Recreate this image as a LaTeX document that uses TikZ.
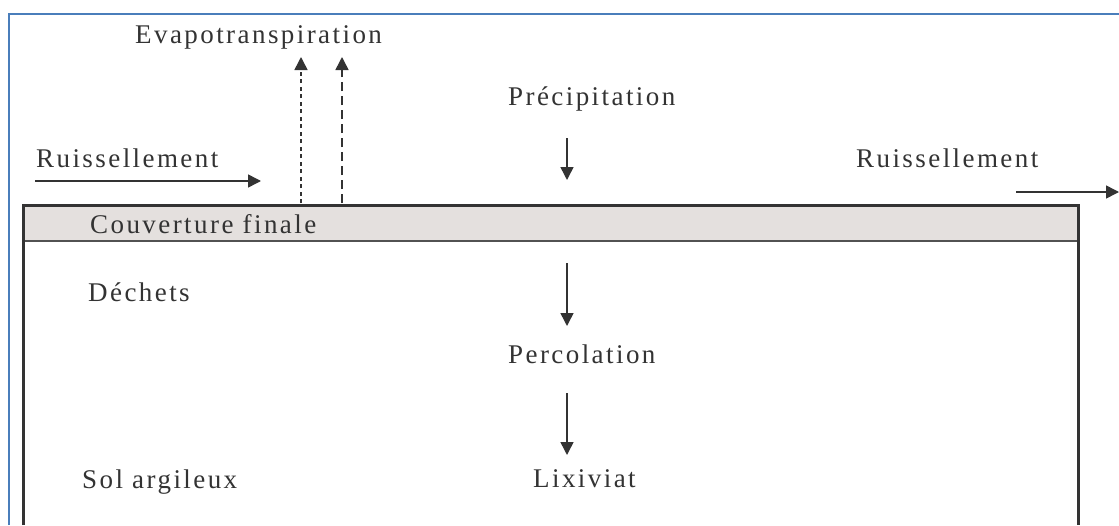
\documentclass[tikz,border=0pt]{standalone}
\usepackage{fontspec}
\setmainfont{Liberation Serif}[LetterSpace=9]
\usetikzlibrary{arrows.meta}
\definecolor{frameblue}{HTML}{4A7EBB}
\definecolor{ink}{HTML}{333333}
\definecolor{coverfill}{HTML}{E4E0DE}
\tikzset{
  lbl/.style={anchor=base west, inner sep=0pt, text=ink, font=\fontsize{27}{31}\selectfont},
  flow/.style={draw=ink, line width=1.5pt, -{Triangle[length=13pt,width=13pt]}},
  evapA/.style={flow, dash pattern=on 4pt off 3.5pt},
  evapB/.style={flow, dash pattern=on 9pt off 5pt},
}
\begin{document}
\begin{tikzpicture}[x=1pt,y=-1pt]
\useasboundingbox (0,0) rectangle (1119,525);
\fill[white] (0,0) rectangle (1119,525);
% blue frame
\draw[frameblue, line width=2pt] (9,525) -- (9,14) -- (1119,14);
% landfill box
\fill[coverfill] (23,205) rectangle (1078,241);
\draw[ink!85, line width=2pt] (23,241) -- (1078,241);
\draw[ink, line width=3pt] (23,525) -- (23,205) -- (1078,205) -- (1078,525);
% labels
\node[lbl] (evap) at (135,43) {Evapotranspiration};
\node[lbl] (ruisL) at (36,167) {Ruissellement};
\node[lbl] (ruisR) at (856,167) {Ruissellement};
\node[lbl] (prec) at (508,105) {Précipitation};
\node[lbl] (couv) at (90,233) {Couverture finale};
\node[lbl] (dech) at (88,301) {Déchets};
\node[lbl] (perc) at (508,363) {Percolation};
\node[lbl] (lix) at (533,487) {Lixiviat};
\node[lbl] (sol) at (82,488) {Sol argileux};
% connector end points
\coordinate (rlA) at (35,181);
\coordinate (rlB) at (261,181);
\coordinate (rrA) at (1016,192);
\coordinate (rrB) at (1119,192);
\coordinate (e1A) at (301,203);
\coordinate (e1B) at (301,57);
\coordinate (e2A) at (342,203);
\coordinate (e2B) at (342,57);
\coordinate (pA) at (567,138);
\coordinate (pB) at (567,180);
\coordinate (q1A) at (567,263);
\coordinate (q1B) at (567,326);
\coordinate (q2A) at (567,393);
\coordinate (q2B) at (567,455);
% connectors
\draw[flow] (rlA) -- (rlB);
\draw[flow] (rrA) -- (rrB);
\draw[evapA] (e1A) -- (e1B);
\draw[evapB] (e2A) -- (e2B);
\draw[flow] (pA) -- (pB);
\draw[flow] (q1A) -- (q1B);
\draw[flow] (q2A) -- (q2B);
\end{tikzpicture}
\end{document}
